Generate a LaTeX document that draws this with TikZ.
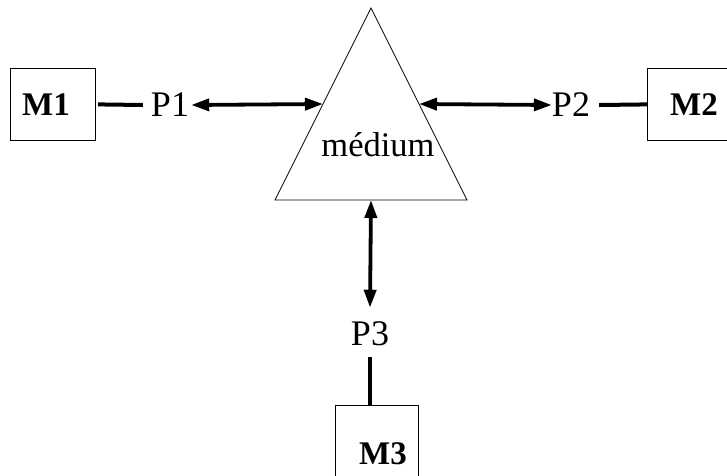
\documentclass[tikz,border=0pt]{standalone}
\usepackage{fontspec}
\setmainfont{Liberation Serif}
\usetikzlibrary{arrows.meta}
\begin{document}
\begin{tikzpicture}[x=1pt,y=-1pt,
  box/.style={draw,line width=0.8pt,inner sep=0pt,anchor=north west},
  mlab/.style={font=\fontsize{33}{36}\selectfont\bfseries,inner sep=0pt},
  plab/.style={font=\fontsize{36}{40}\selectfont,inner sep=0pt},
  thickline/.style={line width=4pt},
  dbl/.style={line width=3.8pt,{Triangle[length=18pt,width=12pt]}-{Triangle[length=18pt,width=12pt]}}]
\useasboundingbox (0,0) rectangle (727,475);
\clip (0,0) rectangle (727,475);
% boxes
\node[box,minimum width=85pt,minimum height=72pt] (m1box) at (10,68) {};
\node[box,minimum width=90pt,minimum height=72pt] (m2box) at (647,68) {};
\node[box,minimum width=83pt,minimum height=90pt] (m3box) at (335,405) {};
\node[mlab] (m1) at (46,105) {M1};
\node[mlab] (m2) at (694,105) {M2};
\node[mlab] (m3) at (383,454) {M3};
% triangle
\coordinate (apex) at (371,8);
\coordinate (bl) at (275,200);
\coordinate (br) at (467,200);
\draw[line width=0.8pt] (apex) -- (bl) -- (br) -- cycle;
\node[font=\fontsize{34.5}{38}\selectfont,inner sep=0pt] (med) at (378,145) {médium};
\coordinate (tl) at (323,104);
\coordinate (tr) at (419,104);
\coordinate (tb) at (371,200);
% ports
\node[plab] (p1) at (170,105) {P1};
\node[plab] (p2) at (571,105) {P2};
\node[plab] (p3) at (370,334) {P3};
% connectors
\draw[thickline] (m1box.east) ++(2,0) coordinate (a1) -- ([xshift=-8pt]p1.west);
\draw[dbl] ([xshift=2pt]p1.east) -- (tl);
\draw[dbl] (tr) -- (p2.west);
\draw[thickline] ([xshift=9pt]p2.east) -- (m2box.west);
\draw[dbl] (tb) -- ([yshift=14pt]p3.north);
\draw[thickline] ([yshift=-11pt]p3.south) -- (p3.south |- m3box.north);
\end{tikzpicture}
\end{document}
